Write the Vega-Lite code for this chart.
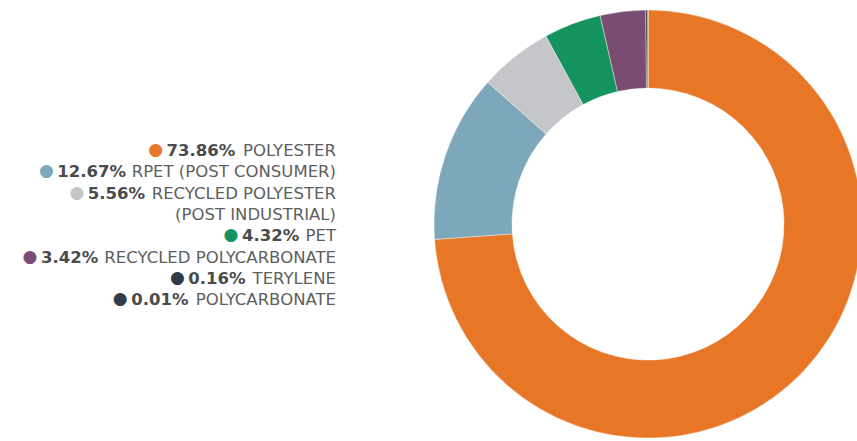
{
  "$schema": "https://vega.github.io/schema/vega-lite/v6.json",
  "background": "white",
  "padding": {"left": 0, "top": 9, "right": 0, "bottom": 0},
  "spacing": 97,
  "center": true,
  "config": {"view": {"stroke": null}},
  "data": {"values": [
    {"name": "POLYESTER", "value": 0.7386, "order": 1},
    {"name": "RPET (POST CONSUMER)", "value": 0.1267, "order": 2},
    {"name": "RECYCLED POLYESTER\n(POST INDUSTRIAL)", "value": 0.0556, "order": 3},
    {"name": "PET", "value": 0.0432, "order": 4},
    {"name": "RECYCLED POLYCARBONATE", "value": 0.0342, "order": 5},
    {"name": "TERYLENE", "value": 0.0016, "order": 6},
    {"name": "POLYCARBONATE", "value": 0.0001, "order": 7}
  ]},
  "hconcat": [
    {
      "width": 336,
      "height": 170.3,
      "encoding": {
        "y": {"field": "name", "type": "nominal", "axis": null,
          "scale": {"type": "point", "round": false, "padding": 0.5, "align": 0.505,
            "domain": ["POLYESTER", "RPET (POST CONSUMER)", "RECYCLED POLYESTER\n(POST INDUSTRIAL)", " ", "PET", "RECYCLED POLYCARBONATE", "TERYLENE", "POLYCARBONATE"]}},
        "x": {"value": "width"}
      },
      "layer": [
        {
          "mark": {"type": "text", "align": "right", "baseline": "alphabetic", "dy": 6, "font": "DejaVu Sans", "fontSize": 16.5, "lineBreak": "\n", "lineHeight": 21.3, "color": "#5d5e60"},
          "encoding": {"text": {"field": "name"}}
        },
        {
          "mark": {"type": "text", "align": "right", "baseline": "alphabetic", "dy": 6, "font": "DejaVu Sans", "fontSize": 16.5, "fontWeight": "bold", "color": "#4a4b4d",
            "dx": {"expr": "-((1400*length(split(datum.name,'\\n')[0]) - 796*length(replace(split(datum.name,'\\n')[0],/[^IJ]/g,'')) - 749*length(replace(split(datum.name,'\\n')[0],/[^ .]/g,'')) - 601*length(replace(split(datum.name,'\\n')[0],/[^()]/g,'')) - 240*length(replace(split(datum.name,'\\n')[0],/[^LF]/g,'')) - 130*length(replace(split(datum.name,'\\n')[0],/[^PTYES]/g,'')) + 170*length(replace(split(datum.name,'\\n')[0],/[^DGHNOQU]/g,'')) + 367*length(replace(split(datum.name,'\\n')[0],/[^M]/g,'')) - 95*(length(split(datum.name,'\\n')[0]) - length(replace(split(datum.name,'\\n')[0],/YC|AT/g,''))))/124.12 + 6)"}},
          "encoding": {"text": {"field": "value", "type": "quantitative", "format": ".2%"}}
        },
        {
          "mark": {"type": "text", "align": "center", "baseline": "middle", "font": "DejaVu Sans", "fontSize": 17, "text": "●",
            "dx": {"expr": "-((1400*length(split(datum.name,'\\n')[0]) - 796*length(replace(split(datum.name,'\\n')[0],/[^IJ]/g,'')) - 749*length(replace(split(datum.name,'\\n')[0],/[^ .]/g,'')) - 601*length(replace(split(datum.name,'\\n')[0],/[^()]/g,'')) - 240*length(replace(split(datum.name,'\\n')[0],/[^LF]/g,'')) - 130*length(replace(split(datum.name,'\\n')[0],/[^PTYES]/g,'')) + 170*length(replace(split(datum.name,'\\n')[0],/[^DGHNOQU]/g,'')) + 367*length(replace(split(datum.name,'\\n')[0],/[^M]/g,'')) - 95*(length(split(datum.name,'\\n')[0]) - length(replace(split(datum.name,'\\n')[0],/YC|AT/g,''))))/124.12 + 6 + (1425*(length(format(datum.value,'.2%'))-2)+2832)/124.12 + 11)"}},
          "encoding": {
            "color": {"field": "name", "type": "nominal", "legend": null,
              "scale": {"domain": ["POLYESTER", "RPET (POST CONSUMER)", "RECYCLED POLYESTER\n(POST INDUSTRIAL)", "PET", "RECYCLED POLYCARBONATE", "TERYLENE", "POLYCARBONATE"],
                "range": ["#e87627", "#7da7bb", "#c5c6c9", "#15935f", "#7b4c72", "#2e3a45", "#343c46"]}}
          }
        }
      ]
    },
    {
      "width": 428,
      "height": 428,
      "mark": {"type": "arc", "innerRadius": 136, "outerRadius": 214, "stroke": "#ffffff", "strokeWidth": 0.4},
      "encoding": {
        "theta": {"field": "value", "type": "quantitative", "stack": true},
        "order": {"field": "order", "type": "quantitative"},
        "color": {"field": "name", "type": "nominal", "legend": null}
      }
    }
  ]
}
